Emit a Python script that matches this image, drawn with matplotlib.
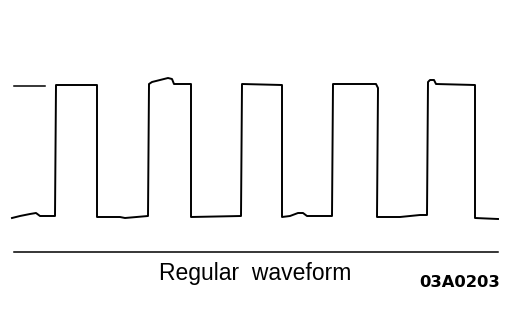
import matplotlib
matplotlib.use("Agg")
import matplotlib.pyplot as plt
import numpy as np

# waveform trace (x along the sweep, y = screen level, top is 0)
pre_x = [14, 45]
pre_y = [86, 86]

wave_x = [12, 20, 30, 36, 40, 55, 56, 97, 97, 120, 125, 148, 149, 152, 160, 168, 172, 174, 191,
          191, 241, 242, 282, 282, 290, 298, 303, 307, 332, 333, 376, 378, 377, 400, 420, 427,
          428, 430, 434, 436, 475, 475, 498]
wave_y = [218, 216, 214, 213, 216, 216, 85, 85, 217, 217, 218, 216, 84, 82, 80, 78, 79, 84, 84,
          217, 216, 84, 85, 217, 216, 213, 213, 216, 216, 84, 84, 88, 217, 217, 215, 215,
          82, 80, 80, 84, 85, 218, 219]

base_x = [14, 498]
base_y = [252, 252]

caption = "Regular  waveform"
code = "03A0203"

fig = plt.figure(figsize=(5.12, 3.16), dpi=100)
ax = fig.add_axes([0, 0, 1, 1])
ax.set_xlim(0, 512)
ax.set_ylim(316, 0)
ax.axis("off")

ax.plot(pre_x, pre_y, color="black", lw=1.1)
ax.plot(wave_x, wave_y, color="black", lw=1.4)
ax.plot(base_x, base_y, color="black", lw=1.1)

ax.text(255, 280, caption, ha="center", va="baseline", fontsize=16.5,
        family="Liberation Sans", color="black")
ax.text(460, 287, code, ha="center", va="baseline", fontsize=11.8,
        family="DejaVu Sans", weight="bold", color="black")

fig.savefig("out.png", dpi=100)
